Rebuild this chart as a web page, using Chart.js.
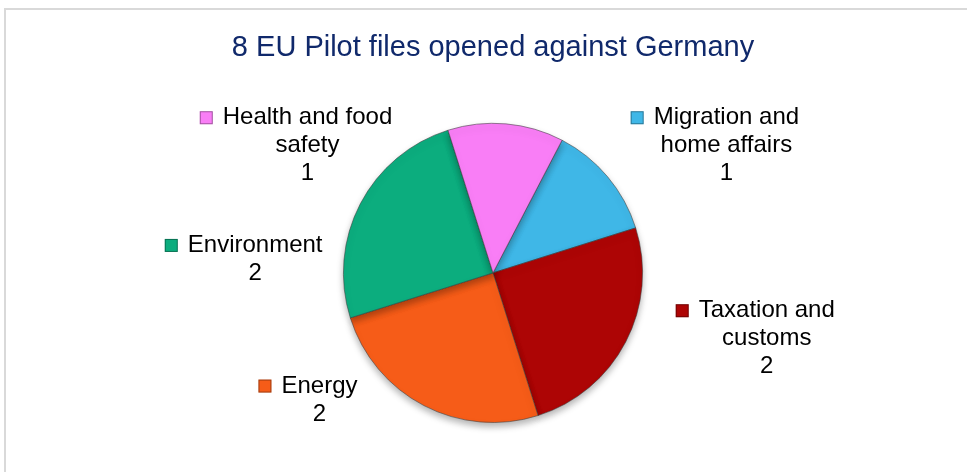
<!DOCTYPE html>
<html>
<head>
<meta charset="utf-8">
<script src="https://cdn.jsdelivr.net/npm/chart.js@4/dist/chart.umd.min.js"></script>
<style>
    html, body { margin: 0; padding: 0; background: #fff; overflow: hidden; }
    #wrap { position: relative; width: 967px; height: 472px; }
    #frame {
        position: absolute; left: 4px; top: 8px;
        width: 1000px; height: 1000px;
        border: 2px solid #d9d9d9;
    }
    canvas { position: absolute; left: 0; top: 0; }
</style>
</head>
<body>
<div id="wrap">
    <div id="frame"></div>
    <canvas id="pilotChart" width="967" height="472"></canvas>
</div>
<script>
// data
const categories = ['Migration and home affairs', 'Taxation and customs', 'Energy', 'Environment', 'Health and food safety'];
const fileCounts = [1, 2, 2, 2, 1];
const labelLines = [
    ['Migration and', 'home affairs'],
    ['Taxation and', 'customs'],
    ['Energy'],
    ['Environment'],
    ['Health and food', 'safety']
];
const sliceColors = ['#3fb7e7', '#ad0505', '#f65c18', '#0cad7e', '#f97ef6'];

// where each data label sits, in units of the pie radius from its centre
const labelOffsets = [[1.56, -0.85], [1.83, 0.44], [-1.16, 0.85], [-1.59, -0.09], [-1.24, -0.85]];

const FONT = '"Liberation Sans", Arial, sans-serif';

// soft drop shadow under the pie
const pieShadow = {
    id: 'pieShadow',
    beforeDatasetsDraw(chart) {
        const ctx = chart.ctx;
        ctx.save();
        ctx.shadowColor = 'rgba(0,0,0,0.3)';
        ctx.shadowBlur = 7;
        ctx.shadowOffsetY = 4;
    },
    afterDatasetsDraw(chart) {
        chart.ctx.restore();
    }
};

// Excel style data labels: legend key + category + value
const dataLabels = {
    id: 'dataLabels',
    afterDraw(chart) {
        const ctx = chart.ctx;
        const meta = chart.getDatasetMeta(0);
        const values = chart.data.datasets[0].data;
        const lineH = 28;
        ctx.save();
        ctx.font = '24px ' + FONT;
        ctx.fillStyle = '#000';
        ctx.textAlign = 'center';
        ctx.textBaseline = 'middle';
        meta.data.forEach((arc, i) => {
            const r = arc.outerRadius;
            const ax = arc.x + labelOffsets[i][0] * r;
            const ay = arc.y + labelOffsets[i][1] * r;
            const lines = labelLines[i].concat([String(values[i])]);
            const top = ay - (lines.length - 1) * lineH / 2;
            lines.forEach((t, k) => ctx.fillText(t, ax, top + k * lineH));

            // legend key in front of first line
            const w = ctx.measureText(lines[0]).width;
            const sz = 13;
            const kx = ax - w / 2 - 10 - sz;
            const ky = top - sz / 2;
            ctx.fillStyle = sliceColors[i];
            ctx.fillRect(kx, ky, sz, sz);
            ctx.strokeStyle = 'rgba(0,0,0,0.35)';
            ctx.lineWidth = 1;
            ctx.strokeRect(kx + 0.5, ky + 0.5, sz - 1, sz - 1);
            ctx.fillStyle = '#000';
        });
        ctx.restore();
    }
};

new Chart(document.getElementById('pilotChart'), {
    type: 'pie',
    data: {
        labels: categories,
        datasets: [{
            data: fileCounts,
            backgroundColor: sliceColors,
            borderColor: 'rgba(60,60,60,0.55)',
            borderWidth: 1
        }]
    },
    options: {
        responsive: false,
        animation: false,
        rotation: 27.5,
        layout: { padding: { left: 19, right: 0, top: 0, bottom: 49 } },
        plugins: {
            legend: { display: false },
            tooltip: { enabled: false },
            title: {
                display: true,
                text: '8 EU Pilot files opened against Germany',
                color: '#10296b',
                font: { family: FONT, size: 29, weight: 'normal', lineHeight: 1.2 },
                padding: { top: 31, bottom: 57 }
            }
        }
    },
    plugins: [pieShadow, dataLabels]
});
</script>
</body>
</html>
